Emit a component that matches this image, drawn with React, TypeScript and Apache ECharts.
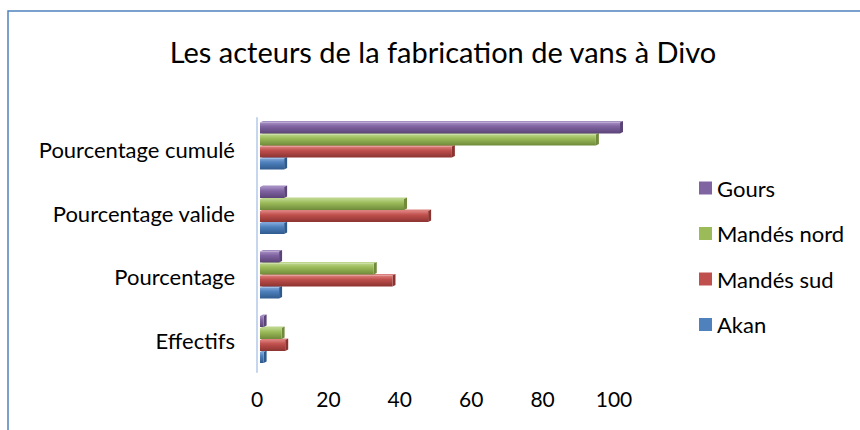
import React, { useEffect, useRef } from "react";
import * as echarts from "echarts";

const categories = ["Effectifs", "Pourcentage", "Pourcentage valide", "Pourcentage cumulé"];
const akan = [1, 5.3, 6.7, 6.7];
const mandesSud = [7, 36.8, 46.7, 53.3];
const mandesNord = [6, 31.6, 40.0, 93.3];
const gours = [1, 5.3, 6.7, 100.0];
const xTicks = [0, 20, 40, 60, 80, 100];
const legendOrder = ["Gours", "Mandés nord", "Mandés sud", "Akan"];

const FONT = "Lato";

const seriesDefs = [
  { name: "Akan", data: akan, front: "#4F81BD", light: "#7FA6D8", dark: "#2F5A8E" },
  { name: "Mandés sud", data: mandesSud, front: "#C0504D", light: "#DC807D", dark: "#8C3331" },
  { name: "Mandés nord", data: mandesNord, front: "#9BBB59", light: "#BBD58A", dark: "#6F8A3A" },
  { name: "Gours", data: gours, front: "#8064A2", light: "#A58EC2", dark: "#5B4477" },
];

export default function App() {
  const ref = useRef<HTMLDivElement>(null);
  useEffect(() => {
    if (!ref.current) return;
    const chart = echarts.init(ref.current, undefined, { renderer: "svg" });
    const pitch = 12;
    const h = 11;
    const dx = 3;
    const dy = -1.5;
    const series: any[] = seriesDefs.map((s, si) => ({
      type: "custom",
      name: s.name,
      xAxisIndex: 1,
      yAxisIndex: 1,
      itemStyle: { color: s.front },
      encode: { x: 1, y: 0 },
      data: s.data.map((v, i) => [i, v]),
      renderItem: (params: any, api: any) => {
        const cat = api.value(0);
        const val = api.value(1);
        const p0 = api.coord([0, cat]);
        const p1 = api.coord([val, cat]);
        const yc = p0[1] + (1.5 - si) * pitch;
        const x0 = p0[0];
        const x1 = p1[0];
        const y0 = yc - h / 2;
        return {
          type: "group",
          children: [
            {
              type: "polygon",
              shape: { points: [[x0, y0], [x0 + dx, y0 + dy], [x1 + dx, y0 + dy], [x1, y0]] },
              style: { fill: s.light },
            },
            {
              type: "polygon",
              shape: { points: [[x1, y0], [x1 + dx, y0 + dy], [x1 + dx, y0 + dy + h], [x1, y0 + h]] },
              style: { fill: s.dark },
            },
            {
              type: "rect",
              shape: { x: x0, y: y0, width: x1 - x0, height: h },
              style: {
                fill: new echarts.graphic.LinearGradient(0, 0, 0, 1, [
                  { offset: 0, color: s.light },
                  { offset: 0.35, color: s.front },
                  { offset: 1, color: s.dark },
                ]),
              },
            },
          ],
        };
      },
    }));

    chart.setOption({
      animation: false,
      backgroundColor: "#ffffff",
      title: {
        text: "Les acteurs de la fabrication de vans à Divo",
        left: 438,
        top: 32,
        textAlign: "center",
        textStyle: { fontFamily: FONT, fontSize: 29, fontWeight: "normal", color: "#000" },
      },
      legend: {
        orient: "vertical",
        left: 694,
        top: 171,
        itemWidth: 13,
        itemHeight: 13,
        itemGap: 21.5,
        icon: "rect",
        data: legendOrder,
        textStyle: { fontFamily: FONT, fontSize: 22, color: "#000", lineHeight: 24, padding: [0, 0, 0, 0] },
      },
      grid: [
        { left: 257, width: 357, top: 118, height: 254 },
        { left: 260, width: 360, top: 113.75, height: 258 },
      ],
      xAxis: [
        {
          type: "value",
          gridIndex: 0,
          min: 0,
          max: 100,
          interval: 20,
          axisLine: { show: false },
          axisTick: { show: false },
          splitLine: { show: false },
          axisLabel: {
            fontFamily: FONT,
            fontSize: 21,
            color: "#000",
            margin: 16,
            formatter: (v: number) => (xTicks.includes(v) ? String(v) : ""),
          },
        },
        {
          type: "value",
          gridIndex: 1,
          min: 0,
          max: 100,
          show: false,
        },
      ],
      yAxis: [
        {
          type: "category",
          gridIndex: 0,
          data: categories,
          axisLine: { show: true, lineStyle: { color: "#C5D6EE", width: 2 } },
          axisTick: { show: false },
          axisLabel: { fontFamily: FONT, fontSize: 22, color: "#000", margin: 22 },
        },
        {
          type: "category",
          gridIndex: 1,
          data: categories,
          show: false,
        },
      ],
      graphic: [
        {
          type: "rect",
          shape: { x: 8, y: 11, width: 1000, height: 1000 },
          style: { fill: "none", stroke: "#4F81BD", lineWidth: 1.5 },
          silent: true,
        },
      ],
      series,
    });
    return () => chart.dispose();
  }, []);
  return (
    <div
      ref={ref}
      style={{ position: "absolute", left: 0, top: 0, width: 860, height: 430, background: "#fff" }}
    />
  );
}
